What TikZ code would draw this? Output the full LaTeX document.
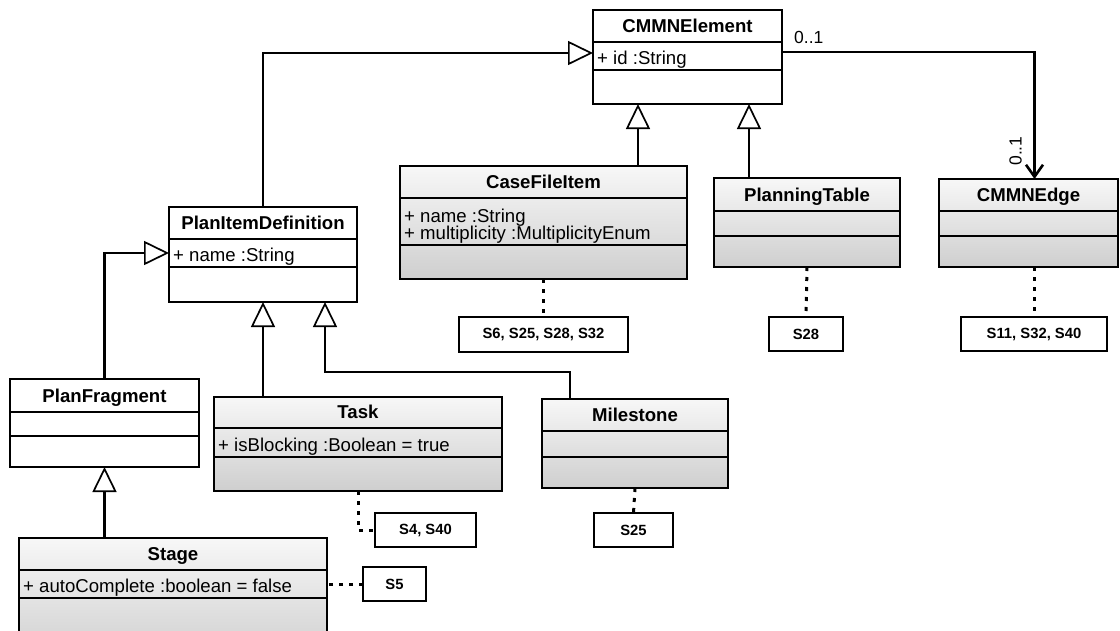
\documentclass[tikz,border=0pt]{standalone}
\usepackage{fontspec}
\setmainfont{Liberation Sans}
\usetikzlibrary{arrows.meta}
\tikzset{
 plain/.style={draw=black, line width=2.7pt, fill=white, inner sep=0pt, outer sep=0pt},
 shaded/.style={draw=black, line width=2.7pt, top color=gray!6, bottom color=gray!38, inner sep=0pt, outer sep=0pt},
 divider/.style={line width=1.7pt},
 ttl/.style={font=\fontsize{18.6}{20}\selectfont\bfseries, anchor=base, inner sep=0pt},
 attr/.style={font=\fontsize{18.6}{20}\selectfont, anchor=base west, inner sep=0pt},
 note/.style={draw=black, line width=1.5pt, fill=white, inner sep=0pt, outer sep=0pt, font=\fontsize{14.8}{16}\selectfont\bfseries, anchor=north west},
 gen/.style={line width=2.6pt, -{Triangle[length=25pt, width=24pt, fill=white, line width=1.7pt]}},
 assoc/.style={line width=2.6pt, -{Straight Barb[length=12pt, width=17pt, line width=2.6pt]}},
 dotline/.style={line width=3pt, dash pattern=on 4pt off 6pt},
 mult/.style={font=\fontsize{17.5}{19}\selectfont, inner sep=0pt},
}
\newcommand{\umlcls}[9]{%
  \node[#8, anchor=north west, minimum width={#4-#2}, minimum height={#7-#3}] (#1) at (#2,#3) {};
  \draw[divider] (#2,#5) -- (#4,#5) (#2,#6) -- (#4,#6);
  \node[ttl] (#1-t) at ({(#2+#4)/2},{#5-10}) {#9};
}
\begin{document}
\begin{tikzpicture}[x=1pt,y=-1pt]
\useasboundingbox (0,0) rectangle (1120,630);
\clip (0,0) rectangle (1120,630);
\fill[white] (0,0) rectangle (1120,630);

% classes
\umlcls{cmmnel}{593}{10}{782}{42}{70}{104}{plain}{CMMNElement}
\node[attr] (cmmnel-a1) at (597,64.5) {+ id :String};

\umlcls{cfi}{400}{166}{687}{198}{245}{279}{shaded}{CaseFileItem}
\node[attr] (cfi-a1) at (404,222.5) {+ name :String};
\node[attr] (cfi-a2) at (404,239.5) {+ multiplicity :MultiplicityEnum};

\umlcls{pt}{714}{178}{900}{211}{236}{267}{shaded}{PlanningTable}
\umlcls{edge}{939}{179}{1118}{211}{236}{267}{shaded}{CMMNEdge}

\umlcls{pid}{169}{207}{357}{239}{267}{302}{plain}{PlanItemDefinition}
\node[attr] (pid-a1) at (173,261.5) {+ name :String};

\umlcls{pf}{10}{379}{199}{412}{436}{467}{plain}{PlanFragment}

\umlcls{task}{214}{397}{502}{428}{457}{491}{shaded}{Task}
\node[attr] (task-a1) at (218,451.5) {+ isBlocking :Boolean = true};

\umlcls{ms}{542}{399}{728}{431}{457}{488}{shaded}{Milestone}

\umlcls{stage}{19}{538}{327}{570}{598}{660}{shaded}{Stage}
\node[attr] (stage-a1) at (23,592) {+ autoComplete :boolean = false};

% notes
\node[note, minimum width=169, minimum height=35] (n1) at (459,317) {S6, S25, S28, S32};
\node[note, minimum width=74, minimum height=34] (n2) at (769,317) {S28};
\node[note, minimum width=146, minimum height=34] (n3) at (961,317) {S11, S32, S40};
\node[note, minimum width=79, minimum height=34] (n4) at (594,513) {S25};
\node[note, minimum width=101, minimum height=34] (n5) at (375,513) {S4, S40};
\node[note, minimum width=63, minimum height=34] (n6) at (363,567) {S5};

% generalizations
\draw[gen] (pid.north) |- ([yshift=-43pt]cmmnel.north west);
\coordinate (g1) at ([xshift=94.5pt]cfi.north);
\draw[gen] (g1) -- (g1 |- cmmnel.south);
\coordinate (g2) at ([xshift=-58pt]pt.north);
\draw[gen] (g2) -- (g2 |- cmmnel.south);
\coordinate (g5) at ([yshift=1.5pt]pid.west);
\draw[gen] (pf.north) |- (g5);
\draw[gen] (task.north -| pid.south) -- (pid.south);
\coordinate (g3) at ([xshift=28pt]ms.north west);
\coordinate (g4) at ([xshift=62pt]pid.south);
\draw[gen] (g3) -- ++(0pt,27pt) -| (g4);
\draw[gen] (stage.north -| pf.south) -- (pf.south);

% association
\coordinate (a0) at ([yshift=5pt]cmmnel.east);
\coordinate (a1) at ([xshift=6pt]edge.north);
\draw[assoc] (a0) -| (a1);
\node[mult, anchor=base west] (m1) at (794,43.5) {0..1};
\node[mult, rotate=90] (m2) at (1015.5,151) {0..1};

% note links
\coordinate (d3) at ([xshift=6pt]edge.south);
\draw[dotline] (cfi.south) -- (n1.north);
\draw[dotline] (pt.south) -- (n2.north);
\draw[dotline] (d3) -- (d3 |- n3.north);
\draw[dotline] (ms.south) -- (n4.north);
\draw[dotline] (task.south) |- (n5.west);
\draw[dotline] (n6.west) -- (n6.west -| stage.east);
\end{tikzpicture}
\end{document}
